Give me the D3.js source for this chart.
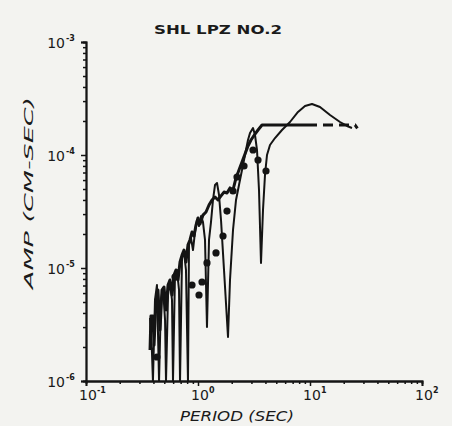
<!DOCTYPE html>
<html><head><meta charset="utf-8">
<script src="https://cdn.jsdelivr.net/npm/d3@7"></script>
<style>
html,body{margin:0;padding:0;background:#f3f3f0;}
svg{display:block;}
text{font-family:"DejaVu Sans",sans-serif;fill:#1a1a1a;}
</style></head>
<body>
<svg id="c" width="452" height="426"></svg>
<script>
// ---- data ----
const title = "SHL LPZ  NO.2";
const xLabel = "PERIOD (SEC)";
const yLabel = "AMP (CM-SEC)";
const xTickBase = ["10","10","10","10"];
const xTickExp = ["-1","0","1","2"];
const xTickValues = [0.1, 1, 10, 100];
const yTickBase = ["10","10","10","10"];
const yTickExp = ["-3","-4","-5","-6"];
const yTickValues = [1e-3, 1e-4, 1e-5, 1e-6];

// observed spectrum (thin line)
const obsPeriod = [0.373,0.388,0.396,0.413,0.430,0.449,0.467,0.487,0.508,0.518,0.540,0.562,0.586,0.598,0.623,0.649,0.677,0.691,0.720,0.750,0.781,0.814,0.831,0.866,0.902,0.940,0.980,1.021,1.064,1.108,1.155,1.203,1.254,1.306,1.361,1.419,1.478,1.540,1.605,1.707,1.853,1.931,2.054,2.185,2.323,2.471,2.628,2.795,2.913,3.098,3.228,3.364,3.505,3.652,3.805,3.964,4.131,4.394,4.870,5.623,6.629,7.814,9.023,10.42,12.28,15.09,18.53,21.40,23.71];
const obsAmp = [3.61e-6,1.81e-6,1e-6,5.21e-6,7.07e-6,1e-6,5.21e-6,6.65e-6,3.46e-6,1e-6,5.77e-6,7.52e-6,5.21e-6,1e-6,8.67e-6,9.60e-6,6.39e-6,1e-6,1.23e-5,1.38e-5,9.60e-6,1e-6,1.60e-5,1.84e-5,1.44e-5,2.08e-5,2.66e-5,2.35e-5,2.88e-5,2.55e-5,1.77e-5,3.01e-6,1.77e-5,2.55e-5,4.00e-5,5.43e-5,5.65e-5,4.43e-5,2.66e-5,9.60e-6,2.45e-6,7.83e-6,2.17e-5,4.00e-5,5.43e-5,7.37e-5,1.00e-4,1.357e-4,1.565e-4,1.734e-4,1.503e-4,1.107e-4,4.90e-5,1.11e-5,3.26e-5,6.65e-5,1.00e-4,1.226e-4,1.413e-4,1.664e-4,1.959e-4,2.402e-4,2.715e-4,2.827e-4,2.660e-4,2.259e-4,1.959e-4,1.806e-4,1.734e-4];

// theoretical spectrum (thick line), solid part
const theoPeriod = [0.373,0.380,0.396,0.405,0.422,0.439,0.458,0.477,0.497,0.518,0.540,0.562,0.586,0.611,0.636,0.663,0.691,0.720,0.750,0.781,0.814,0.848,0.884,0.921,0.960,1.000,1.042,1.108,1.179,1.254,1.334,1.419,1.509,1.605,1.707,1.815,1.931,2.054,2.185,2.323,2.471,2.628,2.795,2.973,3.228,3.434,3.728,9.402];
const theoAmp = [1.88e-6,3.76e-6,3.76e-6,2.08e-6,5.21e-6,6.39e-6,2.83e-6,6.39e-6,6.79e-6,4.25e-6,7.07e-6,7.83e-6,5.77e-6,8.67e-6,9.60e-6,7.83e-6,1.13e-5,1.30e-5,1.44e-5,1.13e-5,1.60e-5,1.77e-5,2.08e-5,1.92e-5,2.40e-5,2.77e-5,2.45e-5,2.94e-5,3.13e-5,3.61e-5,4.00e-5,4.25e-5,4.00e-5,4.34e-5,4.70e-5,4.61e-5,5.11e-5,4.90e-5,6.26e-5,7.37e-5,8.67e-5,1.020e-4,1.201e-4,1.357e-4,1.533e-4,1.664e-4,1.843e-4,1.843e-4];
// theoretical extension (dashed)
const dashPeriod = [9.402, 25.23, 26.5];
const dashAmp = [1.843e-4, 1.843e-4, 1.72e-4];

// measured points (dots)
const dotPeriod = [0.430,0.623,0.884,1.021,1.086,1.203,1.448,1.672,1.815,2.054,2.230,2.575,3.098,3.434,4.047];
const dotAmp = [1.63e-6,8.32e-6,7.07e-6,5.77e-6,7.52e-6,1.11e-5,1.36e-5,1.92e-5,3.19e-5,4.80e-5,6.39e-5,7.99e-5,1.107e-4,9.03e-5,7.22e-5];

// ---- drawing ----
const svg = d3.select("#c");
const x = d3.scaleLog().domain([0.1, 100]).range([86, 422]);
const y = d3.scaleLog().domain([1e-6, 1e-3]).range([381, 42]);
const ink = "#141414";

function minors(lo, hi){
  const out=[];
  for(let e=Math.round(Math.log10(lo)); e<Math.round(Math.log10(hi)); e++)
    for(let m=2;m<=9;m++) out.push(m*Math.pow(10,e));
  return out;
}

// y axis
const yMinor = d3.axisLeft(y).tickValues(minors(1e-6,1e-3)).tickSize(3).tickFormat("");
const yMajor = d3.axisLeft(y).tickValues(yTickValues).tickSize(5).tickFormat("");
[yMinor,yMajor].forEach(ax=>{
  const g = svg.append("g").attr("transform","translate(86,0)").call(ax);
  g.selectAll("path").attr("stroke",ink).attr("stroke-width",1.8);
  g.selectAll("line").attr("stroke",ink).attr("stroke-width",1.5);
});
// x axis
const xMinor = d3.axisBottom(x).tickValues(minors(0.1,100)).tickSize(3).tickFormat("");
const xMajor = d3.axisBottom(x).tickValues(xTickValues).tickSize(5).tickFormat("");
[xMinor,xMajor].forEach(ax=>{
  const g = svg.append("g").attr("transform","translate(0,381)").call(ax);
  g.selectAll("path").attr("stroke",ink).attr("stroke-width",1.8);
  g.selectAll("line").attr("stroke",ink).attr("stroke-width",1.5);
});

// tick labels
yTickValues.forEach((v,i)=>{
  svg.append("text").attr("x",65).attr("y",y(v)+6).attr("text-anchor","end")
    .attr("font-size",14).text(yTickBase[i]);
  svg.append("text").attr("x",66).attr("y",y(v)-1).attr("font-size",8).attr("font-weight","bold").text(yTickExp[i]);
});
xTickValues.forEach((v,i)=>{
  svg.append("text").attr("x",x(v)+2).attr("y",400).attr("text-anchor","middle")
    .attr("font-size",14).text(xTickBase[i]);
  svg.append("text").attr("x",x(v)+11).attr("y",393).attr("font-size",8).attr("font-weight","bold").text(xTickExp[i]);
});

// titles
svg.append("text").attr("x",218).attr("y",34).attr("text-anchor","middle")
  .attr("font-size",12).attr("font-weight",600).attr("textLength",128).attr("lengthAdjust","spacingAndGlyphs").text(title);
svg.append("text").attr("x",237).attr("y",421).attr("text-anchor","middle")
  .attr("font-size",14).attr("font-style","italic").attr("textLength",114).attr("lengthAdjust","spacingAndGlyphs").text(xLabel);
svg.append("text").attr("transform","translate(33,193) rotate(-90)").attr("text-anchor","middle")
  .attr("font-size",13).attr("font-style","italic").attr("textLength",192).attr("lengthAdjust","spacingAndGlyphs").text(yLabel);

// lines
const line = d3.line().x(d=>x(d[0])).y(d=>y(d[1])).curve(d3.curveLinear);
const obs = obsPeriod.map((p,i)=>[p,obsAmp[i]]);
const theo = theoPeriod.map((p,i)=>[p,theoAmp[i]]);
const dash = dashPeriod.map((p,i)=>[p,dashAmp[i]]);

svg.append("path").attr("d",line(theo)).attr("fill","none").attr("stroke",ink)
  .attr("stroke-width",3).attr("stroke-linejoin","round");
svg.append("path").attr("d",line(dash)).attr("fill","none").attr("stroke",ink)
  .attr("stroke-width",3).attr("stroke-dasharray","10,6");
svg.append("path").attr("d",line(obs)).attr("fill","none").attr("stroke",ink)
  .attr("stroke-width",2).attr("stroke-linejoin","round");

svg.append("g").selectAll("circle").data(dotPeriod).join("circle")
  .attr("cx",(d)=>x(d)).attr("cy",(d,i)=>y(dotAmp[i])).attr("r",3.6).attr("fill",ink);
</script>
</body></html>
